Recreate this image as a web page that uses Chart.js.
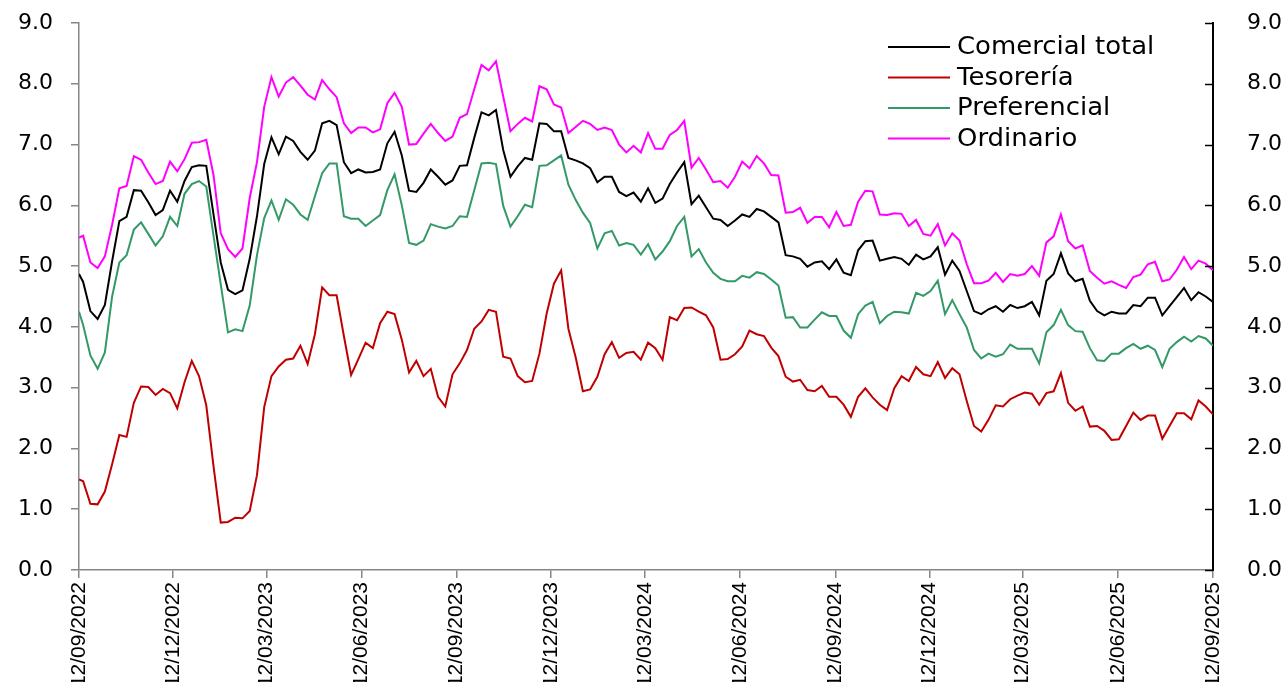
<!DOCTYPE html>
<html>
<head>
<meta charset="utf-8">
<script src="https://cdn.jsdelivr.net/npm/chart.js@4.4.1/dist/chart.umd.min.js"></script>
<style>
  html, body { margin: 0; padding: 0; background: #fff; overflow: hidden; }
  #tasas { display: block; }
</style>
</head>
<body>
<canvas id="tasas" width="1284" height="682"></canvas>
<script>
// eje: inicia el lunes 12/09/2022, luego datos semanales (viernes) hasta 12/09/2025
const startDate = '12/09/2022';
const firstFriday = '16/09/2022';
const nWeeks = 157;

const tickLabels = [
    '12/09/2022', '12/12/2022', '12/03/2023', '12/06/2023', '12/09/2023',
    '12/12/2023', '12/03/2024', '12/06/2024', '12/09/2024', '12/12/2024',
    '12/03/2025', '12/06/2025', '12/09/2025'
];

const comercialTotal = [
    4.87, 4.74, 4.26, 4.13, 4.36, 5.08, 5.74, 5.81, 6.25, 6.24,
    6.05, 5.84, 5.92, 6.24, 6.06, 6.40, 6.63, 6.66, 6.65, 5.85,
    5.06, 4.61, 4.54, 4.60, 5.12, 5.82, 6.68, 7.12, 6.84, 7.13,
    7.06, 6.88, 6.75, 6.90, 7.35, 7.39, 7.32, 6.71, 6.53, 6.59,
    6.54, 6.55, 6.59, 7.02, 7.21, 6.82, 6.24, 6.22, 6.37, 6.59,
    6.47, 6.34, 6.41, 6.65, 6.66, 7.11, 7.53, 7.48, 7.57, 6.91,
    6.47, 6.64, 6.78, 6.75, 7.35, 7.34, 7.22, 7.22, 6.78, 6.74,
    6.69, 6.61, 6.38, 6.47, 6.47, 6.22, 6.15, 6.21, 6.06, 6.28,
    6.04, 6.11, 6.35, 6.54, 6.71, 6.02, 6.16, 5.97, 5.78, 5.76,
    5.66, 5.75, 5.85, 5.81, 5.94, 5.90, 5.81, 5.72, 5.18, 5.16,
    5.12, 4.99, 5.06, 5.08, 4.95, 5.11, 4.89, 4.85, 5.26, 5.41,
    5.42, 5.09, 5.12, 5.15, 5.12, 5.02, 5.19, 5.11, 5.16, 5.31,
    4.86, 5.09, 4.92, 4.59, 4.26, 4.21, 4.29, 4.34, 4.25, 4.36,
    4.31, 4.34, 4.41, 4.19, 4.76, 4.87, 5.21, 4.88, 4.75, 4.79,
    4.43, 4.26, 4.19, 4.25, 4.22, 4.22, 4.36, 4.34, 4.48, 4.48,
    4.19, 4.34, 4.49, 4.64, 4.44, 4.57, 4.50, 4.41
];

const tesoreria = [
    1.49, 1.46, 1.09, 1.08, 1.29, 1.74, 2.22, 2.19, 2.75, 3.02,
    3.01, 2.88, 2.98, 2.91, 2.66, 3.09, 3.44, 3.19, 2.71, 1.71,
    0.78, 0.79, 0.86, 0.85, 0.97, 1.56, 2.68, 3.19, 3.35, 3.46,
    3.48, 3.69, 3.39, 3.88, 4.65, 4.52, 4.52, 3.85, 3.21, 3.47,
    3.74, 3.65, 4.06, 4.25, 4.21, 3.79, 3.25, 3.44, 3.19, 3.31,
    2.85, 2.69, 3.22, 3.40, 3.62, 3.97, 4.09, 4.28, 4.25, 3.51,
    3.48, 3.19, 3.09, 3.11, 3.56, 4.22, 4.71, 4.93, 3.97, 3.50,
    2.94, 2.97, 3.18, 3.55, 3.75, 3.49, 3.57, 3.59, 3.46, 3.74,
    3.65, 3.46, 4.16, 4.11, 4.31, 4.32, 4.25, 4.19, 3.99, 3.46,
    3.47, 3.55, 3.68, 3.94, 3.88, 3.85, 3.66, 3.52, 3.18, 3.10,
    3.13, 2.96, 2.94, 3.03, 2.85, 2.85, 2.72, 2.52, 2.85, 2.99,
    2.84, 2.72, 2.63, 2.99, 3.19, 3.11, 3.34, 3.22, 3.19, 3.42,
    3.16, 3.32, 3.22, 2.78, 2.37, 2.28, 2.47, 2.71, 2.69, 2.81,
    2.87, 2.92, 2.90, 2.72, 2.91, 2.94, 3.24, 2.75, 2.62, 2.69,
    2.36, 2.37, 2.29, 2.14, 2.15, 2.37, 2.59, 2.47, 2.54, 2.54,
    2.16, 2.37, 2.58, 2.58, 2.48, 2.79, 2.69, 2.56
];

const preferencial = [
    4.25, 4.03, 3.53, 3.31, 3.58, 4.50, 5.06, 5.18, 5.60, 5.72,
    5.53, 5.34, 5.49, 5.81, 5.66, 6.19, 6.35, 6.40, 6.31, 5.50,
    4.70, 3.91, 3.96, 3.93, 4.35, 5.18, 5.79, 6.08, 5.76, 6.10,
    6.01, 5.85, 5.76, 6.15, 6.53, 6.69, 6.69, 5.82, 5.78, 5.78,
    5.66, 5.75, 5.84, 6.25, 6.51, 6.00, 5.38, 5.35, 5.42, 5.69,
    5.65, 5.62, 5.66, 5.82, 5.81, 6.25, 6.69, 6.70, 6.68, 5.99,
    5.65, 5.82, 6.01, 5.97, 6.65, 6.66, 6.74, 6.82, 6.34, 6.09,
    5.88, 5.71, 5.29, 5.54, 5.58, 5.34, 5.38, 5.35, 5.19, 5.36,
    5.11, 5.24, 5.41, 5.66, 5.81, 5.16, 5.28, 5.06, 4.89, 4.79,
    4.75, 4.75, 4.84, 4.81, 4.90, 4.87, 4.78, 4.68, 4.15, 4.16,
    3.99, 3.99, 4.12, 4.24, 4.18, 4.18, 3.94, 3.82, 4.21, 4.35,
    4.41, 4.06, 4.18, 4.25, 4.24, 4.22, 4.56, 4.51, 4.59, 4.76,
    4.21, 4.44, 4.21, 3.99, 3.62, 3.48, 3.56, 3.51, 3.55, 3.71,
    3.64, 3.64, 3.64, 3.40, 3.91, 4.03, 4.28, 4.03, 3.93, 3.92,
    3.65, 3.45, 3.44, 3.56, 3.56, 3.65, 3.72, 3.64, 3.69, 3.62,
    3.34, 3.64, 3.75, 3.84, 3.76, 3.85, 3.81, 3.69
];

const ordinario = [
    5.47, 5.50, 5.06, 4.97, 5.16, 5.68, 6.28, 6.32, 6.81, 6.75,
    6.54, 6.35, 6.40, 6.72, 6.56, 6.76, 7.03, 7.04, 7.08, 6.50,
    5.54, 5.28, 5.15, 5.29, 6.12, 6.71, 7.62, 8.11, 7.79, 8.02,
    8.11, 7.97, 7.82, 7.74, 8.06, 7.91, 7.78, 7.35, 7.19, 7.28,
    7.28, 7.20, 7.25, 7.68, 7.85, 7.62, 7.00, 7.01, 7.18, 7.34,
    7.19, 7.06, 7.13, 7.44, 7.50, 7.91, 8.31, 8.22, 8.37, 7.79,
    7.22, 7.34, 7.44, 7.38, 7.96, 7.91, 7.66, 7.61, 7.19, 7.29,
    7.39, 7.34, 7.24, 7.28, 7.24, 7.00, 6.87, 6.98, 6.87, 7.19,
    6.93, 6.93, 7.16, 7.24, 7.39, 6.62, 6.78, 6.59, 6.38, 6.40,
    6.29, 6.47, 6.72, 6.61, 6.81, 6.69, 6.50, 6.49, 5.88, 5.89,
    5.96, 5.71, 5.81, 5.81, 5.64, 5.89, 5.66, 5.68, 6.06, 6.24,
    6.23, 5.85, 5.84, 5.87, 5.86, 5.66, 5.76, 5.53, 5.50, 5.69,
    5.34, 5.54, 5.42, 5.03, 4.72, 4.72, 4.76, 4.89, 4.74, 4.87,
    4.84, 4.87, 5.00, 4.84, 5.39, 5.49, 5.85, 5.41, 5.29, 5.34,
    4.92, 4.81, 4.71, 4.75, 4.69, 4.64, 4.82, 4.86, 5.03, 5.07,
    4.75, 4.78, 4.94, 5.15, 4.95, 5.09, 5.04, 4.93
];

// dias desde el inicio del eje
function toDay(s) {
    const [d, m, y] = s.split('/').map(Number);
    const [d0, m0, y0] = startDate.split('/').map(Number);
    return Math.round((Date.UTC(y, m - 1, d) - Date.UTC(y0, m0 - 1, d0)) / 86400000);
}

const xDays = [toDay(startDate)];
for (let i = 0; i < nWeeks; i++) xDays.push(toDay(firstFriday) + 7 * i);
const tickDays = tickLabels.map(toDay);

function serie(values) {
    return values.map((v, i) => ({ x: xDays[i], y: v }));
}

// ancho fijo del eje y sin relleno extra arriba/abajo
function fitY(width) {
    return s => {
        s.width = width;
        s.paddingTop = 0;
        s.paddingBottom = 0;
    };
}

const innerTicks = {
    id: 'innerTicks',
    afterDraw(chart) {
        const s = chart.scales.y1;
        const c = chart.ctx;
        c.save();
        c.strokeStyle = '#000';
        c.lineWidth = 1.5;
        s.ticks.forEach(t => {
            const y = Math.round(s.getPixelForValue(t.value)) + 0.5;
            c.beginPath();
            c.moveTo(s.left, y);
            c.lineTo(s.left - 8, y);
            c.stroke();
        });
        c.restore();
    }
};

const boxLegend = {
    id: 'boxLegend',
    afterDraw(chart) {
        const c = chart.ctx;
        c.save();
        c.font = '24px "DejaVu Sans"';
        c.textBaseline = 'middle';
        chart.data.datasets.forEach((ds, i) => {
            const y = 47 + i * 30.5;
            c.strokeStyle = ds.borderColor;
            c.lineWidth = 2;
            c.beginPath();
            c.moveTo(888, y);
            c.lineTo(950, y);
            c.stroke();
            c.fillStyle = '#000';
            c.save();
            c.translate(957, y + 1);
            c.scale(1.08, 1);
            c.fillText(ds.label, 0, 0);
            c.restore();
        });
        c.restore();
    }
};

const ctx = document.getElementById('tasas').getContext('2d');

new Chart(ctx, {
    type: 'line',
    data: {
        datasets: [
            { label: 'Comercial total', data: serie(comercialTotal), borderColor: '#000000' },
            { label: 'Tesorería', data: serie(tesoreria), borderColor: '#c00000' },
            { label: 'Preferencial', data: serie(preferencial), borderColor: '#339966' },
            { label: 'Ordinario', data: serie(ordinario), borderColor: '#ff00ff' }
        ]
    },
    options: {
        responsive: false,
        animation: false,
        elements: {
            line: { borderWidth: 2, tension: 0, fill: false },
            point: { radius: 0 }
        },
        layout: { padding: { top: 23, left: 0, right: 0, bottom: 0 } },
        plugins: {
            legend: { display: false },
            tooltip: { enabled: false }
        },
        scales: {
            x: {
                type: 'linear',
                min: 0,
                max: tickDays[tickDays.length - 1],
                afterBuildTicks: s => { s.ticks = tickDays.map(v => ({ value: v })); },
                afterFit: s => { s.height = 112; },
                ticks: {
                    autoSkip: false,
                    minRotation: 90,
                    maxRotation: 90,
                    padding: 4,
                    color: '#000',
                    font: { family: 'Liberation Sans', size: 21 },
                    callback: (v, i) => tickLabels[i]
                },
                grid: { drawOnChartArea: false, color: '#868686', lineWidth: 1.5, tickLength: 8 },
                border: { color: '#868686', width: 1.5 }
            },
            y: {
                position: 'left',
                min: 0,
                max: 9,
                afterFit: fitY(79),
                ticks: {
                    stepSize: 1,
                    padding: 18,
                    color: '#000',
                    font: { family: 'DejaVu Sans', size: 22 },
                    callback: v => v.toFixed(1)
                },
                grid: { drawOnChartArea: false, color: '#868686', lineWidth: 1.5, tickLength: 8 },
                border: { color: '#868686', width: 1.5 }
            },
            y1: {
                position: 'right',
                min: 0,
                max: 9,
                afterFit: fitY(71),
                ticks: {
                    stepSize: 1,
                    padding: 26,
                    color: '#000',
                    font: { family: 'DejaVu Sans', size: 22 },
                    callback: v => v.toFixed(1)
                },
                grid: { display: false },
                border: { color: '#000', width: 2 }
            }
        }
    },
    plugins: [innerTicks, boxLegend]
});
</script>
</body>
</html>
